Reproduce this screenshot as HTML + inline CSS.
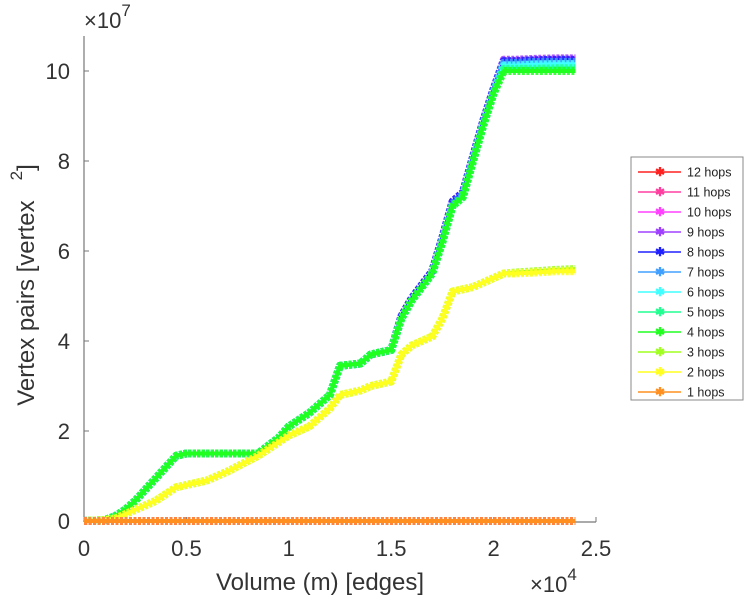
<!DOCTYPE html>
<html><head><meta charset="utf-8"><style>
body{margin:0;background:#fff;}
svg{display:block;font-family:"Liberation Sans",sans-serif;}
</style></head><body>
<svg id="chart" width="752" height="600" viewBox="0 0 752 600" xmlns="http://www.w3.org/2000/svg">
<g id="axes"></g>
<g id="series"></g>
<g id="legend"></g>
</svg>
<script>
const xs = [0,0.1,0.15,0.2,0.25,0.3,0.35,0.4,0.45,0.5,0.6,0.7,0.85,0.95,1.0,1.1,1.2,1.25,1.35,1.4,1.5,1.55,1.6,1.7,1.75,1.8,1.85,1.9,1.95,2.0,2.05,2.1,2.2,2.3,2.4];
const hop9 = [0,0.02,0.1,0.25,0.45,0.7,0.95,1.2,1.45,1.5,1.5,1.5,1.5,1.85,2.1,2.4,2.8,3.45,3.5,3.7,3.8,4.55,4.95,5.55,6.3,7.1,7.3,8.1,8.9,9.6,10.25,10.25,10.27,10.28,10.28];
const hop8 = [0,0.02,0.1,0.25,0.45,0.7,0.95,1.2,1.45,1.5,1.5,1.5,1.5,1.85,2.1,2.4,2.8,3.45,3.5,3.7,3.8,4.55,4.95,5.55,6.3,7.1,7.3,8.1,8.9,9.6,10.22,10.22,10.24,10.25,10.25];
const hop7 = [0,0.02,0.1,0.25,0.45,0.7,0.95,1.2,1.45,1.5,1.5,1.5,1.5,1.85,2.1,2.4,2.8,3.45,3.5,3.7,3.8,4.5,4.9,5.5,6.25,7.05,7.25,8.05,8.85,9.55,10.18,10.18,10.2,10.2,10.2];
const hop6 = [0,0.02,0.1,0.25,0.45,0.7,0.95,1.2,1.45,1.5,1.5,1.5,1.5,1.85,2.1,2.4,2.8,3.45,3.5,3.7,3.8,4.5,4.9,5.5,6.2,7.0,7.2,8.0,8.8,9.5,10.12,10.12,10.14,10.15,10.15];
const hop5 = [0,0.02,0.1,0.25,0.45,0.7,0.95,1.2,1.45,1.5,1.5,1.5,1.5,1.85,2.1,2.4,2.8,3.45,3.5,3.7,3.8,4.5,4.9,5.5,6.2,7.0,7.2,8.0,8.8,9.5,10.05,10.05,10.05,10.06,10.06];
const hop4 = [0,0.02,0.1,0.25,0.45,0.7,0.95,1.2,1.45,1.5,1.5,1.5,1.5,1.85,2.1,2.4,2.8,3.45,3.5,3.7,3.8,4.5,4.9,5.5,6.2,7.0,7.2,8.0,8.8,9.5,10.0,10.0,10.0,10.0,10.0];
const hop3 = [0,0.02,0.05,0.15,0.25,0.35,0.45,0.6,0.75,0.8,0.9,1.1,1.45,1.75,1.9,2.1,2.5,2.8,2.9,3.0,3.1,3.7,3.9,4.1,4.5,5.1,5.15,5.2,5.3,5.4,5.5,5.52,5.55,5.58,5.6];
const hop2 = [0,0.02,0.05,0.15,0.25,0.35,0.45,0.6,0.75,0.8,0.9,1.1,1.45,1.75,1.9,2.1,2.5,2.8,2.9,3.0,3.1,3.7,3.9,4.1,4.5,5.1,5.15,5.2,5.3,5.4,5.5,5.5,5.52,5.55,5.55];
const hop0 = [0,0,0,0,0,0,0,0,0,0,0,0,0,0,0,0,0,0,0,0,0,0,0,0,0,0,0,0,0,0,0,0,0,0,0];
const seriesNames = ["12 hops","11 hops","10 hops","9 hops","8 hops","7 hops","6 hops","5 hops","4 hops","3 hops","2 hops","1 hops"];
const seriesColors = ["#ff2020","#ff3fa0","#ff40ff","#a040ff","#2020ff","#40a0ff","#40ffff","#20ff90","#20ff20","#a0ff20","#ffff20","#ff9020"];
const seriesValues = [hop0,hop0,hop0,hop9,hop8,hop7,hop6,hop5,hop4,hop3,hop2,hop0];
const xTicks = [0,0.5,1,1.5,2,2.5];
const xTickLabels = ["0","0.5","1","1.5","2","2.5"];
const yTicks = [0,2,4,6,8,10];
const yTickLabels = ["0","2","4","6","8","10"];

const NS="http://www.w3.org/2000/svg";
const X0=84,X1=596,Y0=521,YT=36;
function sx(v){return X0+(v/2.5)*(X1-X0);}
function sy(v){return Y0-v*45;}
function mk(tag,attrs,parent){const e=document.createElementNS(NS,tag);for(const k in attrs)e.setAttribute(k,attrs[k]);parent.appendChild(e);return e;}

const axes=document.getElementById('axes');
let a=mk('line',{x1:X0,y1:YT,x2:X0,y2:Y0+1,stroke:'#777','stroke-width':1.2},axes);


a=mk('line',{x1:X0,y1:Y0+1,x2:X1,y2:Y0+1,stroke:'#777','stroke-width':1.2},axes);


xTicks.forEach((t,i)=>{
  const tk=mk('line',{x1:sx(t),y1:Y0+1,x2:sx(t),y2:Y0-4,stroke:'#777'},axes);
  
  
  const tx=mk('text',{x:sx(t),y:556,'text-anchor':'middle','font-size':22,fill:'#333'},axes);
  tx.textContent=xTickLabels[i];
  
  
});
yTicks.forEach((t,i)=>{
  const tk=mk('line',{x1:X0,y1:sy(t),x2:X0+5,y2:sy(t),stroke:'#777'},axes);
  
  
  const tx=mk('text',{x:70,y:sy(t)+8,'text-anchor':'end','font-size':22,fill:'#333'},axes);
  tx.textContent=yTickLabels[i];
  
  
});
let t=mk('text',{x:320,y:590,'text-anchor':'middle','font-size':24,fill:'#333'},axes);
t.textContent='Volume (m) [edges]';


t=mk('text',{x:530,y:592,'font-size':22,fill:'#333'},axes);
t.innerHTML='×10<tspan dy="-12" font-size="17">4</tspan>';


t=mk('text',{x:84,y:28,'font-size':22,fill:'#333'},axes);
t.innerHTML='×10<tspan dy="-12" font-size="17">7</tspan>';


t=mk('text',{x:0,y:0,'text-anchor':'middle','font-size':24,fill:'#333',transform:'translate(34,285) rotate(-90)'},axes);
t.innerHTML='Vertex pairs [vertex<tspan dx="20" dy="-12" font-size="17">2</tspan><tspan dy="12">]</tspan>';



const sg=document.getElementById('series');
const order=[3,4,5,6,7,8,9,10,0,1,2,11];
order.forEach(i=>{
  const vals=seriesValues[i];
  const d=xs.map((x,j)=>(j?'L':'M')+sx(x).toFixed(1)+','+sy(vals[j]).toFixed(1)).join(' ');
  const p=mk('path',{d:d,fill:'none',stroke:seriesColors[i],'stroke-width':8,'stroke-linejoin':'round','stroke-dasharray':'3 1.5','stroke-opacity':0.85},sg);
  
  
  const p2=mk('path',{d:d,fill:'none',stroke:seriesColors[i],'stroke-width':4,'stroke-linejoin':'round'},sg);
  
  
});

const lg=document.getElementById('legend');
const box=mk('rect',{x:631,y:157,width:112,height:243,fill:'#fff',stroke:'#888'},lg);


seriesNames.forEach((n,i)=>{
  const y=172+i*20;
  const g=mk('g',{},lg);
  
  
  mk('line',{x1:638,y1:y,x2:681,y2:y,stroke:seriesColors[i],'stroke-width':1.5},g);
  mk('text',{x:660,y:y+4,'text-anchor':'middle','font-size':12,fill:seriesColors[i],'font-weight':'bold'},g).textContent='✱';
  mk('text',{x:687,y:y+4.5,'font-size':12.5,fill:'#222'},g).textContent=n;
});
</script>
</body></html>
